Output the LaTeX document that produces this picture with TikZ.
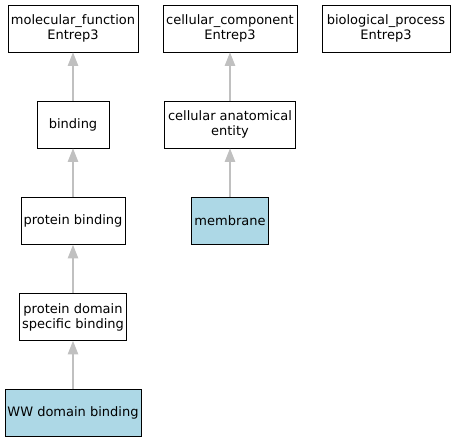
\documentclass[tikz,border=0pt]{standalone}
\usepackage{fontspec}
\setmainfont{DejaVu Sans}
\usetikzlibrary{arrows.meta}
\definecolor{termblue}{HTML}{ADD8E6}
\definecolor{edgegray}{HTML}{C0C0C0}
\begin{document}
\begin{tikzpicture}
[x=1pt,y=-1pt,%
  every node/.style={shape=rectangle,draw,line width=0.9pt,font=\fontsize{13}{15}\selectfont,
    align=center,minimum height=47pt,inner xsep=1pt},
  hit/.style={fill=termblue},
  isa/.style={draw=edgegray,line width=1.1pt,-{Triangle[width=10.5pt,length=13.5pt]}}]
\useasboundingbox (0,0) rectangle (453,443);
\node[minimum width=130pt] (mf) at (73,28.5) {molecular\_function\\Entrep3};
\node[minimum width=134pt] (cc) at (230,28.5) {cellular\_component\\Entrep3};
\node[minimum width=128pt] (bp) at (386,28.5) {biological\_process\\Entrep3};
\node[minimum width=72pt] (binding) at (73,124.5) {binding};
\node[minimum width=131pt] (cae) at (230,124.5) {cellular anatomical\\entity};
\node[minimum width=104pt] (pb) at (73,221) {protein binding};
\node[hit,minimum width=77pt] (membrane) at (230,221) {membrane};
\node[minimum width=107pt] (pdsb) at (73,317) {protein domain\\specific binding};
\node[hit,minimum width=136pt] (ww) at (73,413) {WW domain binding};
\draw[isa] (binding) -- (mf);
\draw[isa] (pb) -- (binding);
\draw[isa] (pdsb) -- (pb);
\draw[isa] (ww) -- (pdsb);
\draw[isa] (cae) -- (cc);
\draw[isa] (membrane) -- (cae);
\end{tikzpicture}
\end{document}
